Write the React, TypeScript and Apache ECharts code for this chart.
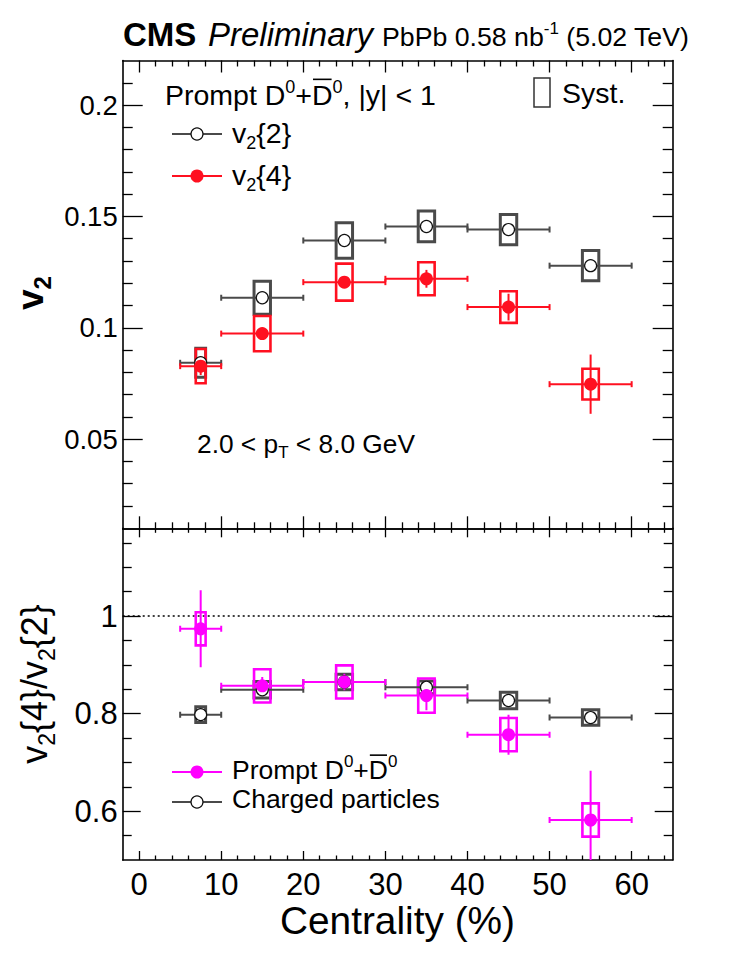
import React, { useEffect, useRef } from "react";
import * as echarts from "echarts";

// ---------------- data ----------------
const centrality = [7.5, 15, 25, 35, 45, 55];
const binHalfWidth = [2.5, 5, 5, 5, 5, 5];
const systHalfWidth = [0.6, 1, 1, 1, 1, 1];

const v2two = [0.0843, 0.1135, 0.1392, 0.1455, 0.1441, 0.1279];
const v2twoStat = [0.001, 0.001, 0.001, 0.001, 0.001, 0.001];
const v2twoSyst = [0.0065, 0.0074, 0.008, 0.0069, 0.0068, 0.0068];

const v2four = [0.0828, 0.0974, 0.1205, 0.122, 0.1093, 0.0747];
const v2fourStat = [0.004, 0.002, 0.002, 0.004, 0.006, 0.0133];
const v2fourSyst = [0.0077, 0.0079, 0.0083, 0.0074, 0.0071, 0.0069];

const ratioD0 = [0.974, 0.857, 0.865, 0.837, 0.757, 0.582];
const ratioD0Stat = [0.079, 0.018, 0.017, 0.03, 0.041, 0.101];
const ratioD0Syst = [0.034, 0.034, 0.034, 0.035, 0.034, 0.034];

const ratioCh = [0.798, 0.849, 0.865, 0.854, 0.827, 0.792];
const ratioChStat = [0.003, 0.003, 0.003, 0.003, 0.003, 0.003];
const ratioChSyst = [0.016, 0.017, 0.016, 0.013, 0.017, 0.016];

const unityLine = [1];

const xMajorTicks = [0, 10, 20, 30, 40, 50, 60];
const xMinorTicks = [2, 4, 6, 8, 12, 14, 16, 18, 22, 24, 26, 28, 32, 34, 36, 38, 42, 44, 46, 48, 52, 54, 56, 58, 62, 64];
const topYMajorTicks = [0.05, 0.1, 0.15, 0.2];
const topYMinorTicks = [0.02, 0.03, 0.04, 0.06, 0.07, 0.08, 0.09, 0.11, 0.12, 0.13, 0.14, 0.16, 0.17, 0.18, 0.19, 0.21];
const botYMajorTicks = [0.6, 0.8, 1];
const botYMinorTicks = [0.55, 0.65, 0.7, 0.75, 0.85, 0.9, 0.95, 1.05, 1.1, 1.15];

// ---------------- styling ----------------
const FF = '"Liberation Sans", Arial, Helvetica, sans-serif';
const GRAY = "#4a4a4a";
const RED = "#ff1020";
const MAGENTA = "#ff00ff";

const X_MIN = -2, X_MAX = 65;
const GL = 122.7, GR = 751 - 672.7;
const TOP_T = 60.5, MID = 528.3, BOT_B = 860;

let measureCtx: CanvasRenderingContext2D | null = null;
function measure(text: string, font: string) {
  if (!measureCtx) measureCtx = document.createElement("canvas").getContext("2d");
  measureCtx!.font = font;
  return measureCtx!.measureText(text).width;
}

type Seg = { t: string; k?: "n" | "sup" | "sub"; over?: boolean; bold?: boolean; italic?: boolean };

function layout(segs: Seg[], x0: number, baseline: number, f: number, color: string) {
  let x = x0;
  const els: any[] = [];
  for (const s of segs) {
    const k = s.k || "n";
    const fs = k === "n" ? f : Math.round(f * 0.64);
    const by = k === "sup" ? baseline - f * 0.42 : k === "sub" ? baseline + f * 0.22 : baseline;
    const font = `${s.italic ? "italic" : "normal"} ${s.bold ? "bold" : "normal"} ${fs}px ${FF}`;
    const w = measure(s.t, font);
    els.push({
      type: "text",
      x,
      y: by - 0.3465 * fs,
      style: {
        text: s.t,
        font,
        fill: color,
        textAlign: "left",
        textVerticalAlign: "middle",
        verticalAlign: "middle",
      },
    });
    if (s.over) {
      els.push({
        type: "line",
        shape: { x1: x + 1, y1: by - fs * 0.9, x2: x + w - 1, y2: by - fs * 0.9 },
        style: { stroke: color, lineWidth: 1.6 },
      });
    }
    x += w;
  }
  return { els, width: x - x0 };
}

function rotated(segs: Seg[], cx: number, cy: number, f: number) {
  const probe = layout(segs, 0, 0, f, "#000");
  const { els } = layout(segs, -probe.width / 2, 0.35 * f, f, "#000");
  return { type: "group", x: cx, y: cy, rotation: Math.PI / 2, children: els };
}

function xAxes(grid: number, len: number, labels: boolean) {
  const base = (pos: string, ticks: number[], l: number, showLine: boolean, lab: boolean) => ({
    type: "value",
    gridIndex: grid,
    position: pos,
    min: X_MIN,
    max: X_MAX,
    axisLine: { show: showLine, onZero: false, lineStyle: { color: "#000", width: 1.6 } },
    axisTick: { show: true, inside: true, length: l, customValues: ticks, lineStyle: { color: "#000", width: 1.3 } },
    axisLabel: lab
      ? { show: true, customValues: xMajorTicks, fontFamily: FF, fontSize: 31, color: "#000", margin: 9 }
      : { show: false },
    splitLine: { show: false },
  });
  return [
    base("bottom", xMajorTicks, len, true, labels),
    base("bottom", xMinorTicks, len / 2, false, false),
    base("top", xMajorTicks, len, true, false),
    base("top", xMinorTicks, len / 2, false, false),
  ];
}

function yAxes(grid: number, min: number, max: number, major: number[], minor: number[], len: number, fs: number) {
  const base = (pos: string, ticks: number[], l: number, showLine: boolean, lab: boolean) => ({
    type: "value",
    gridIndex: grid,
    position: pos,
    min,
    max,
    axisLine: { show: showLine, onZero: false, lineStyle: { color: "#000", width: 1.6 } },
    axisTick: { show: true, inside: true, length: l, customValues: ticks, lineStyle: { color: "#000", width: 1.3 } },
    axisLabel: lab
      ? { show: true, customValues: major, fontFamily: FF, fontSize: fs, color: "#000", margin: 5, formatter: (v: number) => String(+v.toFixed(3)) }
      : { show: false },
    splitLine: { show: false },
  });
  return [
    base("left", major, len, true, true),
    base("left", minor, len / 2, false, false),
    base("right", major, len, true, false),
    base("right", minor, len / 2, false, false),
  ];
}

function boxSeries(xi: number, vals: number[], syst: number[], color: string, lw: number) {
  return {
    type: "custom",
    xAxisIndex: xi,
    yAxisIndex: xi,
    clip: true,
    data: centrality.map((x, i) => [x, vals[i], syst[i], systHalfWidth[i]]),
    renderItem: (_p: any, api: any) => {
      const x = api.value(0), y = api.value(1), s = api.value(2), hw = api.value(3);
      const a = api.coord([x - hw, y + s]);
      const b = api.coord([x + hw, y - s]);
      return {
        type: "rect",
        shape: { x: a[0], y: a[1], width: b[0] - a[0], height: b[1] - a[1] },
        style: { fill: "none", stroke: color, lineWidth: lw },
      };
    },
    z: 3,
  };
}

function errSeries(xi: number, vals: number[], stat: number[], color: string) {
  return {
    type: "custom",
    xAxisIndex: xi,
    yAxisIndex: xi,
    clip: true,
    data: centrality.map((x, i) => [x, vals[i], binHalfWidth[i], stat[i]]),
    renderItem: (_p: any, api: any) => {
      const x = api.value(0), y = api.value(1), xe = api.value(2), ye = api.value(3);
      const l = api.coord([x - xe, y]);
      const r = api.coord([x + xe, y]);
      const t = api.coord([x, y + ye]);
      const b = api.coord([x, y - ye]);
      const st = { stroke: color, lineWidth: 2 };
      return {
        type: "group",
        children: [
          { type: "line", shape: { x1: l[0], y1: l[1], x2: r[0], y2: r[1] }, style: st },
          { type: "line", shape: { x1: l[0], y1: l[1] - 3, x2: l[0], y2: l[1] + 3 }, style: st },
          { type: "line", shape: { x1: r[0], y1: r[1] - 3, x2: r[0], y2: r[1] + 3 }, style: st },
          { type: "line", shape: { x1: t[0], y1: t[1], x2: b[0], y2: b[1] }, style: st },
        ],
      };
    },
    z: 4,
  };
}

function markerSeries(xi: number, vals: number[], open: boolean, color: string) {
  return {
    type: "scatter",
    xAxisIndex: xi,
    yAxisIndex: xi,
    symbol: "circle",
    symbolSize: open ? 12 : 13,
    data: centrality.map((x, i) => [x, vals[i]]),
    itemStyle: open ? { color: "#fff", borderColor: "#111", borderWidth: 1.2, opacity: 1 } : { color, opacity: 1 },
    z: 5,
  };
}

export default function App() {
  const ref = useRef<HTMLDivElement>(null);
  useEffect(() => {
    if (!ref.current) return;
    const chart = echarts.init(ref.current, undefined, { renderer: "svg" });

    const D0segs = (extra: Seg[]): Seg[] => [
      { t: "Prompt D" },
      { t: "0", k: "sup" },
      { t: "+" },
      { t: "D", over: true },
      { t: "0", k: "sup" },
      ...extra,
    ];

    const graphics: any[] = [];
    // title
    graphics.push(...layout([{ t: "CMS", bold: true }], 123, 46, 33, "#000").els);
    graphics.push(...layout([{ t: "Preliminary", italic: true }], 208, 46, 33, "#000").els);
    graphics.push(
      ...layout([{ t: "PbPb 0.58 nb" }, { t: "-1", k: "sup" }, { t: " (5.02 TeV)" }], 382, 46, 26.7, "#000").els
    );
    // top panel legend
    graphics.push(...layout(D0segs([{ t: ", |y| < 1" }]), 165, 105, 28.5, "#000").els);
    graphics.push(...layout([{ t: "v" }, { t: "2", k: "sub" }, { t: "{2}" }], 232, 143, 28.5, "#000").els);
    graphics.push(...layout([{ t: "v" }, { t: "2", k: "sub" }, { t: "{4}" }], 232, 185, 28.5, "#000").els);
    graphics.push({ type: "line", shape: { x1: 172, y1: 134, x2: 222, y2: 134 }, style: { stroke: GRAY, lineWidth: 2 } });
    graphics.push({ type: "circle", shape: { cx: 197, cy: 134, r: 6 }, style: { fill: "#fff", stroke: "#111", lineWidth: 1.2 } });
    graphics.push({ type: "line", shape: { x1: 172, y1: 176, x2: 222, y2: 176 }, style: { stroke: RED, lineWidth: 2 } });
    graphics.push({ type: "circle", shape: { cx: 197, cy: 176, r: 6.5 }, style: { fill: RED } });
    // syst legend
    graphics.push({ type: "rect", shape: { x: 534, y: 78, width: 16, height: 29 }, style: { fill: "none", stroke: "#333", lineWidth: 1.5 } });
    graphics.push(...layout([{ t: "Syst." }], 562, 103, 28.5, "#000").els);
    // pT text
    graphics.push(
      ...layout([{ t: "2.0 < p" }, { t: "T", k: "sub" }, { t: " < 8.0 GeV" }], 197, 453, 26.3, "#000").els
    );
    // bottom legend
    graphics.push({ type: "line", shape: { x1: 172, y1: 772, x2: 222, y2: 772 }, style: { stroke: MAGENTA, lineWidth: 2 } });
    graphics.push({ type: "circle", shape: { cx: 197, cy: 772, r: 6.5 }, style: { fill: MAGENTA } });
    graphics.push({ type: "line", shape: { x1: 172, y1: 802, x2: 222, y2: 802 }, style: { stroke: GRAY, lineWidth: 2 } });
    graphics.push({ type: "circle", shape: { cx: 197, cy: 802, r: 6 }, style: { fill: "#fff", stroke: "#111", lineWidth: 1.2 } });
    graphics.push(...layout(D0segs([]), 232, 779, 26.5, "#000").els);
    graphics.push(...layout([{ t: "Charged particles" }], 232, 808, 26.5, "#000").els);
    // axis titles
    graphics.push(rotated([{ t: "v", bold: true }, { t: "2", k: "sub", bold: true }], 30, 293, 37));
    graphics.push(
      rotated(
        [{ t: "v" }, { t: "2", k: "sub" }, { t: "{4}/v" }, { t: "2", k: "sub" }, { t: "{2}" }],
        34,
        684,
        36
      )
    );
    graphics.push(...layout([{ t: "Centrality (%)" }], 280, 934, 38.8, "#000").els);

    const option: any = {
      animation: false,
      backgroundColor: "#fff",
      grid: [
        { left: GL, right: GR, top: TOP_T, height: MID - TOP_T, containLabel: false },
        { left: GL, right: GR, top: MID, height: BOT_B - MID, containLabel: false },
      ],
      xAxis: [...xAxes(0, 12, false), ...xAxes(1, 9, true)],
      yAxis: [
        ...yAxes(0, 0.01, 0.22, topYMajorTicks, topYMinorTicks, 20, 27.5),
        ...yAxes(1, 0.5, 1.18, botYMajorTicks, botYMinorTicks, 18, 31),
      ],
      graphic: { elements: graphics },
      series: [
        // top panel
        boxSeries(0, v2two, v2twoSyst, GRAY, 3),
        boxSeries(0, v2four, v2fourSyst, RED, 2.6),
        errSeries(0, v2two, v2twoStat, GRAY),
        errSeries(0, v2four, v2fourStat, RED),
        markerSeries(0, v2two, true, GRAY),
        markerSeries(0, v2four, false, RED),
        // bottom panel
        {
          type: "line",
          xAxisIndex: 4,
          yAxisIndex: 4,
          symbol: "none",
          data: [
            [X_MIN, unityLine[0]],
            [X_MAX, unityLine[0]],
          ],
          lineStyle: { color: "#000", width: 1.5, type: [2, 3] },
          z: 2,
        },
        boxSeries(4, ratioCh, ratioChSyst, GRAY, 3),
        errSeries(4, ratioCh, ratioChStat, GRAY),
        markerSeries(4, ratioCh, true, GRAY),
        boxSeries(4, ratioD0, ratioD0Syst, MAGENTA, 2.6),
        errSeries(4, ratioD0, ratioD0Stat, MAGENTA),
        markerSeries(4, ratioD0, false, MAGENTA),
      ],
    };
    chart.setOption(option);
    return () => chart.dispose();
  }, []);
  return (
    <div
      ref={ref}
      style={{ position: "fixed", left: 0, top: 0, width: 751, height: 960, background: "#fff" }}
    />
  );
}
